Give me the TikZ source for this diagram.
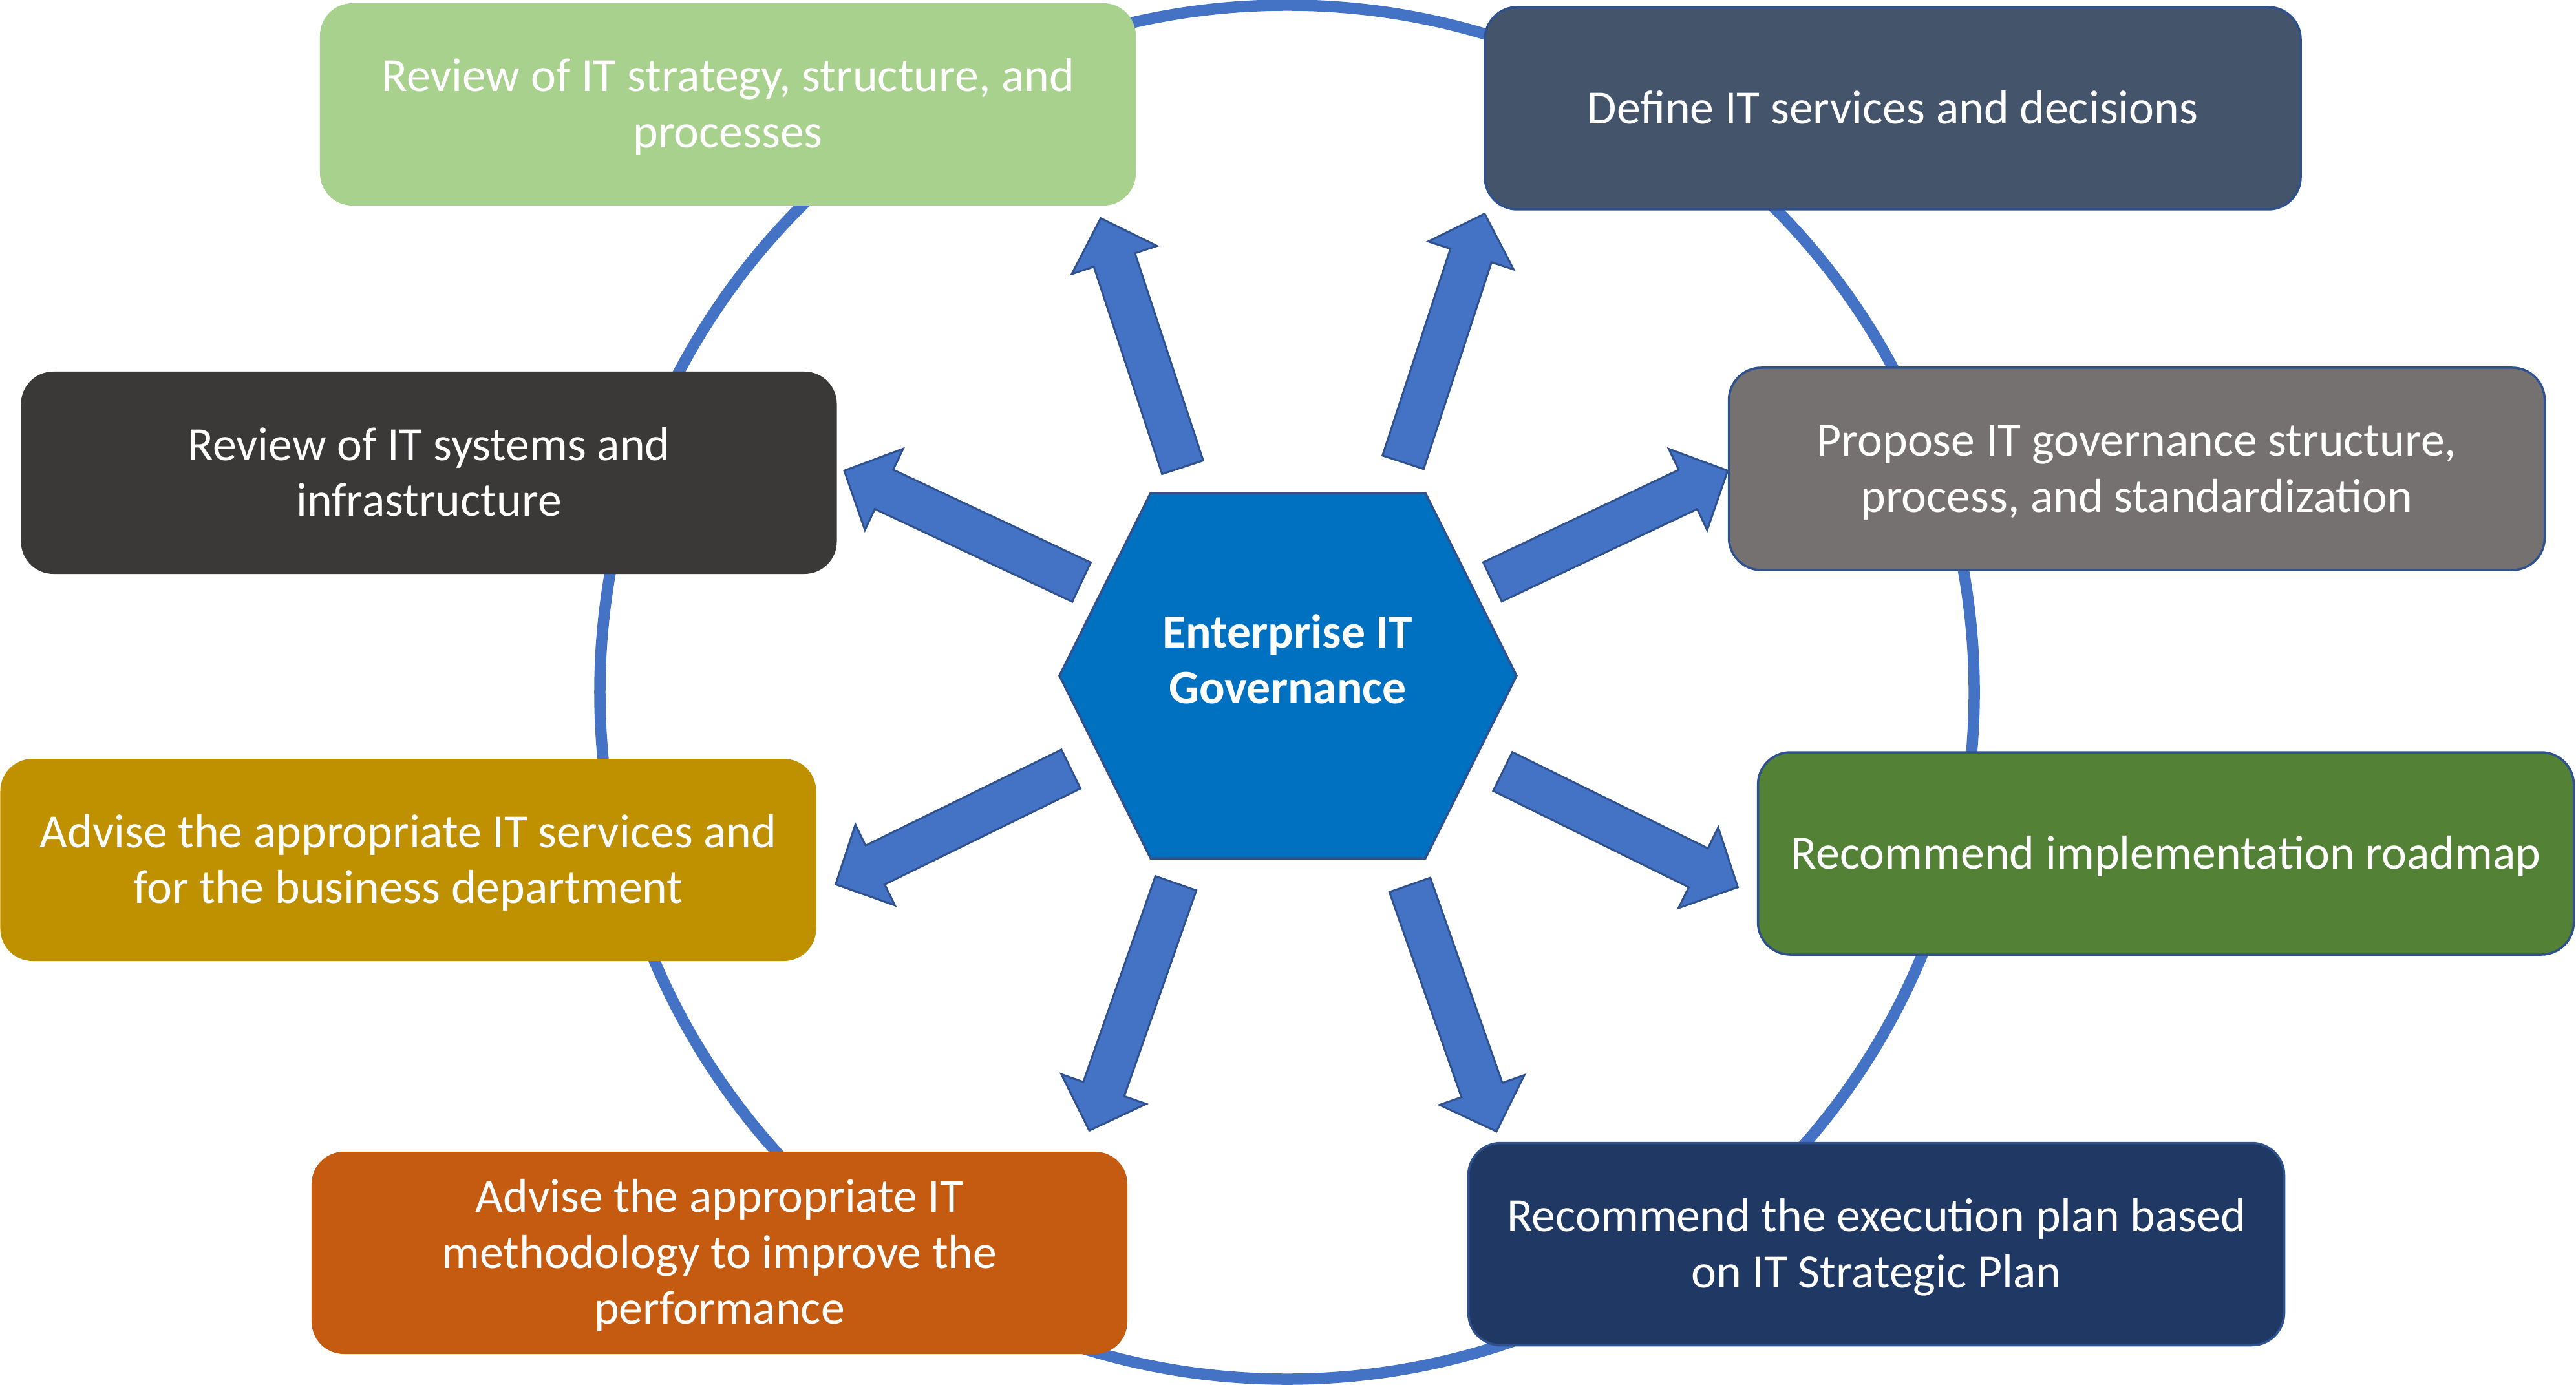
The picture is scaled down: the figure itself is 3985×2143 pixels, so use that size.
\documentclass[tikz,border=0pt]{standalone}
\usepackage{fontspec}
\setmainfont{Carlito}
\usetikzlibrary{calc}
\setlength{\parindent}{0pt}

\definecolor{c4472c4}{RGB}{68,114,196}
\definecolor{c2f528f}{RGB}{47,82,143}
\definecolor{c0070c0}{RGB}{0,112,192}
\definecolor{ca9d18e}{RGB}{169,209,142}
\definecolor{c44546a}{RGB}{68,84,106}
\definecolor{c3b3838}{RGB}{59,56,56}
\definecolor{c767171}{RGB}{118,113,113}
\definecolor{cbf9000}{RGB}{191,144,0}
\definecolor{c538135}{RGB}{83,129,53}
\definecolor{cc55a11}{RGB}{197,90,17}
\definecolor{c203864}{RGB}{32,56,100}

\tikzset{
  box/.style={rounded corners=10pt, minimum width=252.4pt, minimum height=62.6pt,
    text width=250pt, align=flush center, text=white, font=\fontsize{14.75}{17.3}\selectfont,
    execute at begin node={\rule{0pt}{14pt}}, execute at end node={\rule[-4.5pt]{0pt}{0pt}}},
  boxedge/.style={draw=c2f528f, line width=0.7pt},
  blockarrow/.style={draw=c2f528f, fill=c4472c4, line width=0.6pt, line join=miter,
    to path={-- ($(\tikztostart)!6.7pt!90:(\tikztotarget)$)
      -- ($($(\tikztotarget)!13.6pt!(\tikztostart)$)!6.7pt!90:(\tikztotarget)$)
      -- ($($(\tikztotarget)!13.6pt!(\tikztostart)$)!13.9pt!90:(\tikztotarget)$)
      -- (\tikztotarget)
      -- ($($(\tikztotarget)!13.6pt!(\tikztostart)$)!13.9pt!-90:(\tikztotarget)$)
      -- ($($(\tikztotarget)!13.6pt!(\tikztostart)$)!6.7pt!-90:(\tikztotarget)$)
      -- ($(\tikztostart)!6.7pt!-90:(\tikztotarget)$) -- cycle}}
}

\begin{document}
\begin{tikzpicture}[y=0.2pt, x=0.2pt, yscale=-1, inner sep=0pt, outer sep=0pt]
\useasboundingbox (0,0) rectangle (3985,2143);
  \path[draw=c4472c4, line width=3.5pt] (1991,1071) circle (212.6pt);

  \coordinate (tail1) at (1829.5,723);   \coordinate (tip1) at (1702.7,337.7);
  \coordinate (tail2) at (2170.5,715.3); \coordinate (tip2) at (2296.7,330.7);
  \coordinate (tail3) at (1673,900.7);   \coordinate (tip3) at (1306,728.3);
  \coordinate (tail4) at (2308.8,900.3); \coordinate (tip4) at (2672.7,728.3);
  \coordinate (tail5) at (1656.7,1190);  \coordinate (tip5) at (1292.7,1368.3);
  \coordinate (tail6) at (2324.7,1193.7);\coordinate (tip6) at (2688.3,1372.7);
  \coordinate (tail7) at (1819,1366.7);  \coordinate (tip7) at (1685,1749.3);
  \coordinate (tail8) at (2181,1369.2);  \coordinate (tip8) at (2315,1750.7);
  \draw[blockarrow] (tail1) to (tip1);
  \draw[blockarrow] (tail2) to (tip2);
  \draw[blockarrow] (tail3) to (tip3);
  \draw[blockarrow] (tail4) to (tip4);
  \draw[blockarrow] (tail5) to (tip5);
  \draw[blockarrow] (tail6) to (tip6);
  \draw[blockarrow] (tail7) to (tip7);
  \draw[blockarrow] (tail8) to (tip8);

  \path[draw=c2f528f, fill=c0070c0, line width=0.7pt] (1639,1045.5) -- (1780,763) --
    (2205,763) -- (2346,1045.5) -- (2205,1328) -- (1780,1328) -- cycle;
  \path (1992,1020) node[align=center, text=white,
    font=\fontsize{14.75}{17.3}\selectfont\bfseries] (governance)
    {Enterprise IT\\Governance};

  \path (1126,161.5) node[box, fill=ca9d18e] (strategyreview)
    {Review of IT strategy, structure, and\\processes};
  \path (2928,167.5) node[box, boxedge, fill=c44546a] (defineservices)
    {Define IT services and decisions};
  \path (663.5,731.5) node[box, fill=c3b3838] (systemsreview)
    {Review of IT systems and\\infrastructure};
  \path (3305.5,725.5) node[box, boxedge, fill=c767171] (proposestructure)
    {Propose IT governance structure,\\process, and standardization};
  \path (631.5,1330.5) node[box, fill=cbf9000] (adviseservices)
    {Advise the appropriate IT services and\\for the business department};
  \path (3350.5,1320.5) node[box, boxedge, fill=c538135] (roadmap)
    {Recommend implementation roadmap};
  \path (1113,1938.5) node[box, fill=cc55a11] (advisemethod)
    {Advise the appropriate IT\\methodology to improve the\\performance};
  \path (2902.5,1925) node[box, boxedge, fill=c203864] (executionplan)
    {Recommend the execution plan based\\on IT Strategic Plan};
\end{tikzpicture}
\end{document}
